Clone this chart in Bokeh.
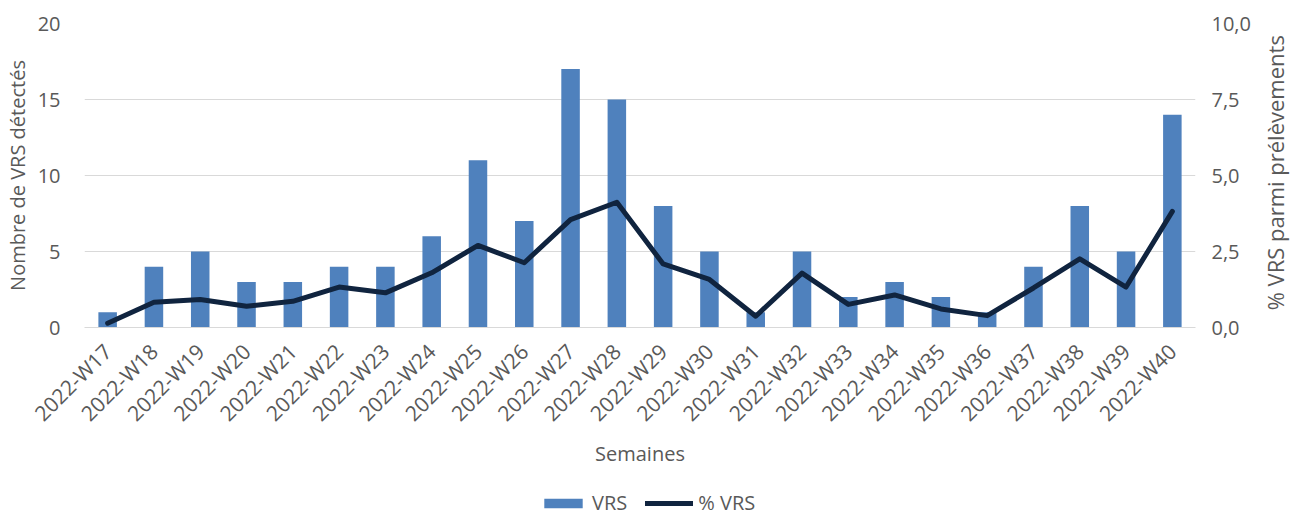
import math
from bokeh.plotting import figure
from bokeh.layouts import column
from bokeh.models import (Range1d, FactorRange, LinearAxis, FixedTicker, CustomJSTickFormatter,
                          Legend, LegendItem, ColumnDataSource)
from bokeh.embed import file_html
from bokeh.resources import INLINE

weeks = ["2022-W17", "2022-W18", "2022-W19", "2022-W20", "2022-W21", "2022-W22",
         "2022-W23", "2022-W24", "2022-W25", "2022-W26", "2022-W27", "2022-W28",
         "2022-W29", "2022-W30", "2022-W31", "2022-W32", "2022-W33", "2022-W34",
         "2022-W35", "2022-W36", "2022-W37", "2022-W38", "2022-W39", "2022-W40"]
vrs_counts = [1, 4, 5, 3, 3, 4, 4, 6, 11, 7, 17, 15, 8, 5, 1, 5, 2, 3, 2, 1, 4, 8, 5, 14]
vrs_pct = [0.14, 0.83, 0.92, 0.70, 0.86, 1.33, 1.14, 1.80, 2.70, 2.13, 3.55, 4.12,
           2.09, 1.58, 0.37, 1.79, 0.76, 1.07, 0.61, 0.39, 1.30, 2.26, 1.33, 3.82]
left_ticks = [0, 5, 10, 15, 20]
right_ticks = [0, 2.5, 5, 7.5, 10]

FONT = "Open Sans"
TXT = "#595959"
GRID = "#d9d9d9"
FS = "20px"
BAR_COLOR = "#4f81bd"
LINE_COLOR = "#10243f"

src = ColumnDataSource(dict(week=weeks, n=vrs_counts, pct=vrs_pct))

p = figure(width=1282, height=470, frame_width=1111, frame_height=304,
           x_range=FactorRange(factors=weeks),
           y_range=Range1d(0, 20), output_backend="svg", toolbar_location=None,
           min_border_left=75, min_border_right=96, min_border_top=23, min_border_bottom=143)
p.outline_line_color = None
p.extra_y_ranges = {"pct": Range1d(0, 10)}

bars = p.vbar(x="week", top="n", width=0.4, source=src, fill_color=BAR_COLOR, line_color=None)
line = p.line(x="week", y="pct", source=src, y_range_name="pct", line_color=LINE_COLOR,
              line_width=5, line_join="round", line_cap="round")

p.xgrid.grid_line_color = None
p.ygrid.grid_line_color = GRID
p.ygrid.grid_line_width = 1

# left axis
ya = p.yaxis[0]
ya.ticker = FixedTicker(ticks=left_ticks)
ya.axis_label = "Nombre de VRS détectés"
ya.axis_line_color = None
ya.major_tick_line_color = None
ya.minor_tick_line_color = None
ya.major_label_standoff = 18
ya.axis_label_standoff = 4

# right axis
ra = LinearAxis(y_range_name="pct", ticker=FixedTicker(ticks=right_ticks),
                formatter=CustomJSTickFormatter(code="return tick.toFixed(1).replace('.', ',');"))
ra.axis_label = "\u00a0\u00a0\u00a0% VRS parmi prélèvements"
ra.axis_line_color = None
ra.major_tick_line_color = None
ra.minor_tick_line_color = None
ra.major_label_standoff = 10
ra.axis_label_standoff = 21
try:
    ra.axis_label_orientation = math.pi / 2
except Exception:
    pass
try:
    ra.axis_label_align = "start"
except Exception:
    pass
p.add_layout(ra, "right")

# bottom axis
xa = p.xaxis[0]
xa.axis_label = "Semaines"
xa.axis_line_color = GRID
xa.major_tick_line_color = None
xa.minor_tick_line_color = None
xa.major_label_orientation = math.pi / 4
xa.major_label_standoff = 14
xa.axis_label_standoff = 0

for ax in (ya, ra, xa):
    ax.major_label_text_font = FONT
    ax.major_label_text_font_size = FS
    ax.major_label_text_color = TXT
    ax.axis_label_text_font = FONT
    ax.axis_label_text_font_size = FS
    ax.axis_label_text_color = TXT
    ax.axis_label_text_font_style = "normal"
xa.major_label_text_font_size = "21px"
ra.axis_label_text_font_size = "22px"

# legend strip below the chart (hidden proxy renderers carry the legend glyph styles)
q = figure(width=1282, height=46, x_range=Range1d(0, 1), y_range=Range1d(0, 1),
           x_axis_type=None, y_axis_type=None, output_backend="svg", toolbar_location=None,
           min_border=0)
q.outline_line_color = None
q.grid.visible = False
lbar = q.vbar(x="n", top="n", width=0.4, source=src, fill_color=BAR_COLOR, line_color=None,
              visible=False)
lline = q.line(x="n", y="pct", source=src, line_color=LINE_COLOR, line_width=5,
               line_cap="round", visible=False)

legend = Legend(items=[LegendItem(label="VRS", renderers=[lbar]),
                       LegendItem(label="% VRS", renderers=[lline])],
                orientation="horizontal", location=(455, 0),
                glyph_width=48, glyph_height=12, label_standoff=5, spacing=18,
                padding=0, margin=0, background_fill_alpha=0, border_line_color=None,
                inactive_fill_alpha=0,
                label_text_font=FONT, label_text_font_size=FS, label_text_color=TXT)
q.add_layout(legend, "center")

open("out.html", "w").write(file_html(column(p, q, spacing=0), INLINE))
